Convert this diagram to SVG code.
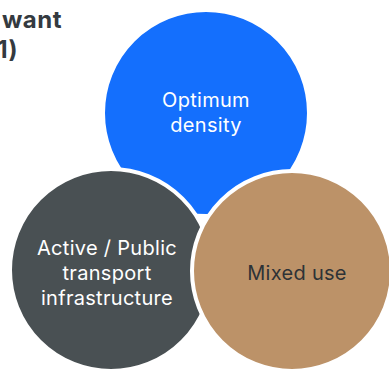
<svg xmlns="http://www.w3.org/2000/svg" width="389" height="372" viewBox="0 0 389 372">
<style>
.c{stroke:#fff;stroke-width:4}
.t{font-family:Inter,"Noto Sans",sans-serif;font-size:20px;letter-spacing:0.3px;text-anchor:middle}
.w{fill:#fff}
.d{fill:#2e3236}
.h{font-family:Inter,"Noto Sans",sans-serif;font-size:24px;font-weight:700;letter-spacing:0.5px;fill:#343a40;text-anchor:end}
</style>
<rect width="389" height="372" fill="#fff"/>
<g id="title">
<text class="h" x="62" y="28">want</text>
<text class="h" x="18" y="58">1)</text>
</g>
<g id="optimum-density">
<circle class="c" cx="206" cy="113" r="103" fill="#146ffd"/>
<text class="t w" x="206" y="107">Optimum</text>
<text class="t w" x="206" y="132">density</text>
</g>
<g id="active-public-transport">
<circle class="c" cx="111" cy="270" r="101" fill="#495053"/>
<text class="t w" x="107" y="255">Active / Public</text>
<text class="t w" x="107" y="280">transport</text>
<text class="t w" x="107" y="305">infrastructure</text>
</g>
<g id="mixed-use">
<circle class="c" cx="292" cy="271" r="100" fill="#bc9268"/>
<text class="t d" x="297" y="280">Mixed use</text>
</g>
<g id="connectors"></g>
</svg>
